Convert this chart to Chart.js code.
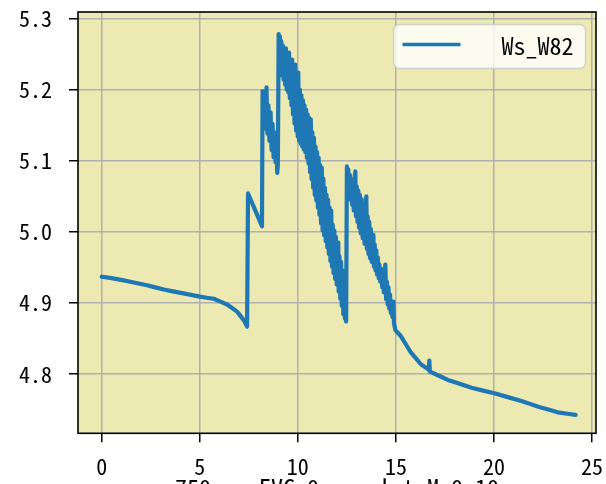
<!DOCTYPE html>
<html>
<head>
<meta charset="utf-8">
<script src="https://cdn.jsdelivr.net/npm/chart.js@4.4.1/dist/chart.umd.min.js"></script>
<style>
  html, body { margin: 0; padding: 0; background: #fff; overflow: hidden; }
  #wrap { width: 606px; height: 502px; }
</style>
</head>
<body>
<div id="wrap"><canvas id="wsChart" width="606" height="502"></canvas></div>
<script>
// ===== DATA =====
const seriesName = 'Ws_W82';
const xTitle = '750_mm_EVC_0_sec_l_t_M_0_10';
const xTicks = [0, 5, 10, 15, 20, 25];
const yTicks = [4.8, 4.9, 5.0, 5.1, 5.2, 5.3];

const xs = [
    0, 0.5, 1.46, 2.3, 3.16, 4.1, 5.0, 5.71, 6.39, 6.9, 7.24, 7.41, 7.46, 7.8, 8.17,
    8.20, 8.24, 8.29, 8.34, 8.40, 8.45, 8.50, 8.55, 8.61, 8.66, 8.71, 8.76, 8.81, 8.86, 8.90, 8.95, 8.98,
    9.02, 9.05, 9.08, 9.11, 9.15, 9.19, 9.23, 9.27, 9.31, 9.35, 9.39, 9.43, 9.47, 9.51, 9.55, 9.59,
    9.63, 9.67, 9.71, 9.75, 9.79, 9.83, 9.87, 9.91, 9.95, 9.99, 10.02, 10.06, 10.10, 10.14, 10.18, 10.22,
    10.26, 10.30, 10.34, 10.38, 10.42, 10.46, 10.50, 10.54, 10.58, 10.62, 10.66, 10.70, 10.74, 10.78,
    10.82, 10.86, 10.90, 10.94, 10.98, 11.02, 11.06, 11.10, 11.14, 11.18, 11.22, 11.26, 11.30, 11.34,
    11.38, 11.42, 11.46, 11.50, 11.54, 11.58, 11.62, 11.66, 11.70, 11.74, 11.78, 11.82, 11.86, 11.90,
    11.94, 11.98, 12.02, 12.06, 12.08, 12.12, 12.16, 12.20, 12.24, 12.28, 12.32, 12.36, 12.40, 12.44, 12.46,
    12.50, 12.53, 12.57, 12.61, 12.65, 12.69, 12.73, 12.77, 12.81, 12.85, 12.89, 12.93, 12.96, 13.00,
    13.04, 13.08, 13.12, 13.16, 13.20, 13.25, 13.30, 13.35, 13.40, 13.45, 13.49, 13.52, 13.56, 13.60,
    13.64, 13.68, 13.72, 13.76, 13.80, 13.85, 13.88, 13.92, 13.96, 14.00, 14.04, 14.08, 14.12, 14.16,
    14.20, 14.25, 14.30, 14.34, 14.38, 14.42, 14.46, 14.50, 14.54, 14.58, 14.62, 14.66, 14.70, 14.74,
    14.78, 14.82, 14.87, 14.90, 14.97,
    15.24, 15.75, 16.27, 16.6, 16.68, 16.70, 16.73, 16.79, 17.65, 18.85, 20.06, 21.44, 22.3, 23.33, 24.16
];
const ys = [
    4.937, 4.935, 4.930, 4.925, 4.919, 4.914, 4.909, 4.906, 4.898, 4.888, 4.876, 4.867, 5.054, 5.032, 5.008,
    5.198, 5.160, 5.190, 5.145, 5.203, 5.138, 5.178, 5.128, 5.168, 5.115, 5.152, 5.105, 5.140, 5.098, 5.122, 5.083, 5.095,
    5.278, 5.232, 5.275, 5.225, 5.268, 5.220, 5.262, 5.214, 5.255, 5.207, 5.258, 5.200, 5.248, 5.196, 5.252, 5.188,
    5.240, 5.178, 5.242, 5.165, 5.232, 5.152, 5.235, 5.142, 5.215, 5.134, 5.224, 5.128, 5.200, 5.124, 5.192, 5.120,
    5.185, 5.116, 5.178, 5.112, 5.172, 5.104, 5.165, 5.096, 5.160, 5.084, 5.158, 5.074, 5.140, 5.062,
    5.132, 5.052, 5.120, 5.044, 5.112, 5.034, 5.104, 5.024, 5.094, 5.012, 5.090, 5.002, 5.075, 4.995,
    5.062, 4.987, 5.052, 4.978, 5.045, 4.969, 5.034, 4.959, 5.030, 4.951, 5.010, 4.942, 5.002, 4.934,
    4.993, 4.926, 4.975, 4.985, 4.916, 4.966, 4.906, 4.958, 4.896, 4.946, 4.884, 4.935, 4.878, 4.905, 4.874,
    5.092, 5.058, 5.088, 5.052, 5.080, 5.045, 5.074, 5.038, 5.070, 5.030, 5.076, 5.085, 5.022, 5.064,
    5.014, 5.058, 5.006, 5.052, 4.998, 5.046, 4.991, 5.038, 4.983, 5.032, 5.050, 4.976, 5.022, 4.969,
    5.014, 4.963, 5.004, 4.958, 4.992, 4.996, 4.951, 4.982, 4.946, 4.974, 4.940, 4.964, 4.935, 4.954,
    4.930, 4.948, 4.922, 4.942, 4.915, 4.940, 4.954, 4.905, 4.930, 4.898, 4.922, 4.892, 4.912, 4.886,
    4.902, 4.880, 4.902, 4.872, 4.862,
    4.854, 4.831, 4.814, 4.808, 4.806, 4.819, 4.804, 4.803, 4.792, 4.781, 4.773, 4.762, 4.754, 4.746, 4.743
];

const FONT = "'Noto Sans Mono CJK JP', 'Noto Sans CJK JP', 'DejaVu Sans Mono', monospace";
const LINE_COLOR = '#1f77b4';

// plot background + spines + legend box
const axesDeco = {
    id: 'axesDeco',
    beforeDraw(chart) {
        const { ctx, chartArea: a } = chart;
        ctx.save();
        ctx.fillStyle = '#ece9b2';
        ctx.fillRect(a.left, a.top, a.right - a.left, a.bottom - a.top);
        ctx.restore();
    },
    afterDraw(chart) {
        const { ctx, chartArea: a } = chart;
        ctx.save();
        ctx.strokeStyle = '#000';
        ctx.lineWidth = 1.6;
        ctx.strokeRect(a.left, a.top, a.right - a.left, a.bottom - a.top);

        // legend
        const w = 192, h = 44;
        const x0 = a.right - 10.5 - w, y0 = a.top + 12.5;
        ctx.beginPath();
        ctx.roundRect(x0, y0, w, h, 6);
        ctx.fillStyle = 'rgba(255,255,255,0.8)';
        ctx.fill();
        ctx.strokeStyle = 'rgba(204,204,204,0.9)';
        ctx.lineWidth = 1.5;
        ctx.stroke();
        ctx.beginPath();
        ctx.moveTo(x0 + 9, y0 + 20);
        ctx.lineTo(x0 + 67, y0 + 20);
        ctx.strokeStyle = LINE_COLOR;
        ctx.lineWidth = 3.5;
        ctx.stroke();
        ctx.fillStyle = '#000';
        ctx.font = '24px ' + FONT;
        ctx.textAlign = 'right';
        ctx.textBaseline = 'middle';
        ctx.fillText(seriesName, x0 + 180, y0 + 21);
        ctx.restore();
    }
};

new Chart(document.getElementById('wsChart'), {
    type: 'line',
    data: {
        datasets: [{
            label: seriesName,
            data: xs.map((x, i) => ({ x: x, y: ys[i] })),
            borderColor: LINE_COLOR,
            borderWidth: 4.2,
            borderJoinStyle: 'round',
            borderCapStyle: 'round',
            pointRadius: 0,
            tension: 0.001,
            fill: false
        }]
    },
    options: {
        responsive: false,
        animation: false,
        layout: { padding: { top: 12, right: 10, left: 0, bottom: 0 } },
        plugins: { legend: { display: false }, tooltip: { enabled: false } },
        scales: {
            x: {
                type: 'linear',
                min: -1.21,
                max: 25.2,
                afterBuildTicks(s) { s.ticks = xTicks.map(v => ({ value: v })); },
                afterFit(s) { s.height = 502 - 433.3; s.paddingLeft = 0; s.paddingRight = 0; },
                ticks: { color: '#000', font: { family: FONT, size: 22 }, padding: 11, maxRotation: 0, callback: v => String(v) },
                grid: { color: '#b0b0b0', lineWidth: 1.5, tickColor: '#000', tickLength: 9, tickWidth: 1.5 },
                border: { display: false },
                title: { display: true, text: xTitle, color: '#000', font: { family: FONT, size: 24 }, padding: 0 }
            },
            y: {
                type: 'linear',
                min: 4.717,
                max: 5.309,
                afterBuildTicks(s) { s.ticks = yTicks.map(v => ({ value: v })); },
                afterFit(s) { s.width = 78; s.paddingTop = 0; s.paddingBottom = 0; },
                ticks: { color: '#000', font: { family: FONT, size: 22 }, padding: 17, callback: v => v.toFixed(1) },
                grid: { color: '#b0b0b0', lineWidth: 1.5, tickColor: '#000', tickLength: 9, tickWidth: 1.5 },
                border: { display: false }
            }
        }
    },
    plugins: [axesDeco]
});
</script>
</body>
</html>
